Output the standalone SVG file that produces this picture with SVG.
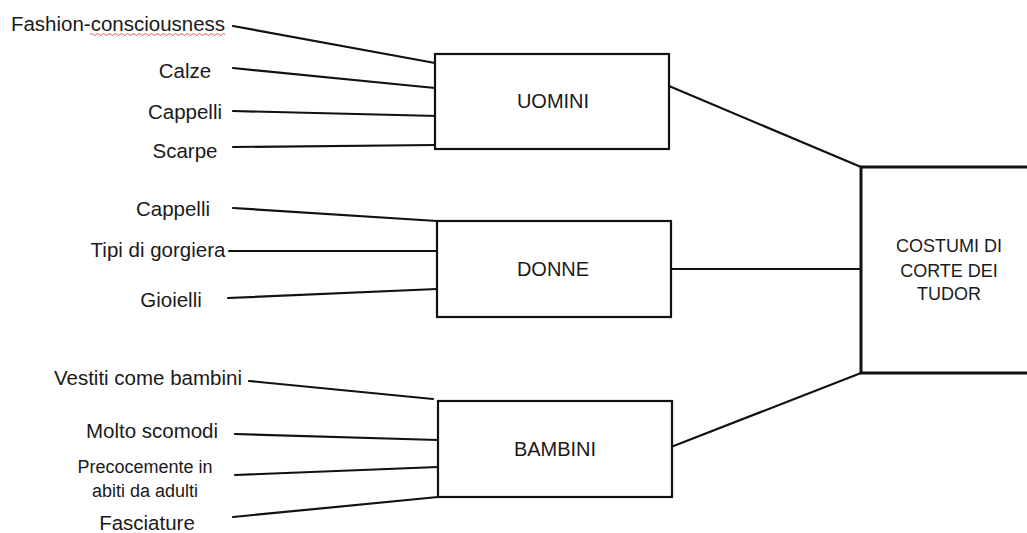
<svg xmlns="http://www.w3.org/2000/svg" width="1027" height="533" viewBox="0 0 1027 533">
  <style>
    .box { fill: #ffffff; stroke: #111111; stroke-width: 2.2; }
    .main { fill: #ffffff; stroke: #111111; stroke-width: 3; }
    .link { stroke: #111111; stroke-width: 2.2; fill: none; stroke-linecap: round; }
    .lbl { font-family: "Liberation Sans", Arial, sans-serif; font-size: 20.5px; fill: #1a1a1a; text-anchor: middle; }
    .small { font-size: 18px; }
    .title { font-family: "Liberation Sans", Arial, sans-serif; font-size: 20px; fill: #1a1a1a; text-anchor: middle; }
    .sm { font-size: 18px; }
  </style>

  <!-- connectors -->
  <g id="connectors">
    <line class="link" x1="233" y1="26" x2="435" y2="63"/>
    <line class="link" x1="233" y1="68" x2="435" y2="88"/>
    <line class="link" x1="233" y1="111" x2="438" y2="116"/>
    <line class="link" x1="233" y1="147" x2="435" y2="145"/>

    <line class="link" x1="233" y1="208" x2="437" y2="221"/>
    <line class="link" x1="229" y1="251" x2="437" y2="251"/>
    <line class="link" x1="228" y1="298" x2="437" y2="289"/>

    <line class="link" x1="249" y1="381" x2="433" y2="399"/>
    <line class="link" x1="235" y1="434" x2="438" y2="440"/>
    <line class="link" x1="235" y1="475" x2="438" y2="467"/>
    <line class="link" x1="233" y1="517" x2="438" y2="497"/>

    <line class="link" x1="669" y1="86" x2="861" y2="167"/>
    <line class="link" x1="671" y1="269" x2="861" y2="269"/>
    <line class="link" x1="671" y1="447" x2="861" y2="373"/>
  </g>

  <!-- category nodes -->
  <g id="node-uomini">
    <rect class="box" x="435" y="54" width="234" height="95"/>
    <text class="title" x="553" y="108">UOMINI</text>
  </g>
  <g id="node-donne">
    <rect class="box" x="437" y="221" width="234" height="96"/>
    <text class="title" x="553" y="276">DONNE</text>
  </g>
  <g id="node-bambini">
    <rect class="box" x="438" y="401" width="234" height="96"/>
    <text class="title" x="555" y="456">BAMBINI</text>
  </g>

  <!-- root node -->
  <g id="node-costumi">
    <rect class="main" x="861" y="167" width="200" height="206"/>
    <text class="title sm" x="949" y="252">COSTUMI DI</text>
    <text class="title sm" x="949" y="277">CORTE DEI</text>
    <text class="title sm" x="949" y="300">TUDOR</text>
  </g>

  <!-- item labels -->
  <g id="items-uomini">
    <text class="lbl" x="118" y="31">Fashion-consciousness</text>
    <path d="M90 34.5 q1.5 -2 3 0 t3 0 t3 0 t3 0 t3 0 t3 0 t3 0 t3 0 t3 0 t3 0 t3 0 t3 0 t3 0 t3 0 t3 0 t3 0 t3 0 t3 0 t3 0 t3 0 t3 0 t3 0 t3 0 t3 0 t3 0 t3 0 t3 0 t3 0 t3 0 t3 0 t3 0 t3 0 t3 0 t3 0 t3 0 t3 0 t3 0 t3 0 t3 0 t3 0 t3 0 t3 0 t3 0 t3 0 t3 0" fill="none" stroke="#e05050" stroke-width="1"/>
    <text class="lbl" x="185" y="78">Calze</text>
    <text class="lbl" x="185" y="119">Cappelli</text>
    <text class="lbl" x="185" y="158">Scarpe</text>
  </g>
  <g id="items-donne">
    <text class="lbl" x="173" y="216">Cappelli</text>
    <text class="lbl" x="158" y="257">Tipi di gorgiera</text>
    <text class="lbl" x="171" y="307">Gioielli</text>
  </g>
  <g id="items-bambini">
    <text class="lbl" x="148" y="385">Vestiti come bambini</text>
    <text class="lbl" x="152" y="438">Molto scomodi</text>
    <text class="lbl small" x="145" y="473">Precocemente in</text>
    <text class="lbl small" x="145" y="497">abiti da adulti</text>
    <text class="lbl" x="147" y="530">Fasciature</text>
  </g>
</svg>
